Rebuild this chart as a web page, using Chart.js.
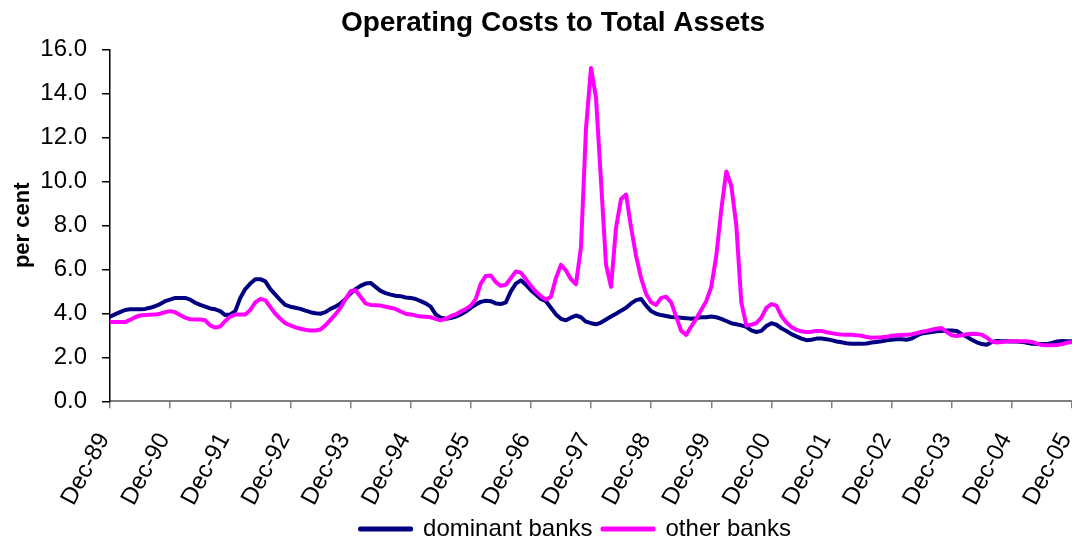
<!DOCTYPE html>
<html>
<head>
<meta charset="utf-8">
<title>Operating Costs to Total Assets</title>
<script src="https://cdn.jsdelivr.net/npm/chart.js@4/dist/chart.umd.min.js"></script>
<style>
  body { margin: 0; background: #fff; }
  #wrap { width: 1072px; height: 543px; }
</style>
</head>
<body>
<div id="wrap"><canvas id="costChart" width="1072" height="543"></canvas></div>
<script>
// monthly series, Dec-89 .. Dec-05 (one value per month, 193 points)
const tickLabels = ['Dec-89', 'Dec-90', 'Dec-91', 'Dec-92', 'Dec-93', 'Dec-94', 'Dec-95', 'Dec-96',
  'Dec-97', 'Dec-98', 'Dec-99', 'Dec-00', 'Dec-01', 'Dec-02', 'Dec-03', 'Dec-04', 'Dec-05'];

const dominantBanks = [
  3.85, 3.95, 4.05, 4.15, 4.18, 4.18, 4.18, 4.2, 4.25, 4.32, 4.42, 4.55,
  4.62, 4.7, 4.7, 4.7, 4.62, 4.48, 4.38, 4.3, 4.22, 4.18, 4.1, 3.92,
  3.95, 4.1, 4.7, 5.1, 5.35, 5.55, 5.55, 5.45, 5.1, 4.85, 4.6, 4.38,
  4.3, 4.25, 4.2, 4.12, 4.05, 4.0, 3.98, 4.05, 4.2, 4.3, 4.45, 4.65,
  4.9, 5.1, 5.25, 5.35, 5.38, 5.2, 5.02, 4.92, 4.85, 4.8, 4.78, 4.72,
  4.7, 4.65, 4.55, 4.45, 4.3, 3.95, 3.8, 3.75, 3.78, 3.85, 3.95, 4.08,
  4.25, 4.4, 4.52, 4.57, 4.55, 4.45, 4.42, 4.5, 5.0, 5.35, 5.5, 5.3,
  5.05, 4.85, 4.65, 4.55, 4.25, 3.95, 3.75, 3.68, 3.8, 3.9, 3.82, 3.62,
  3.55, 3.5, 3.58, 3.72, 3.85, 3.98, 4.12, 4.25, 4.45, 4.6, 4.65, 4.35,
  4.1, 3.98, 3.92, 3.88, 3.83, 3.82, 3.8, 3.78, 3.75, 3.78, 3.82, 3.82,
  3.85, 3.82, 3.75, 3.65, 3.55, 3.5, 3.45, 3.38, 3.22, 3.15, 3.2, 3.42,
  3.55, 3.48, 3.32, 3.2, 3.05, 2.95, 2.85, 2.78, 2.8, 2.85, 2.85, 2.82,
  2.78, 2.72, 2.68, 2.64, 2.62, 2.62, 2.62, 2.63, 2.67, 2.7, 2.73, 2.77,
  2.8, 2.82, 2.82, 2.8, 2.85, 2.98, 3.08, 3.12, 3.15, 3.18, 3.2, 3.22,
  3.22, 3.2, 3.05, 2.93, 2.8, 2.68, 2.6, 2.57, 2.7, 2.74, 2.73, 2.73,
  2.72, 2.72, 2.7, 2.66, 2.62, 2.61, 2.6, 2.6, 2.65, 2.72, 2.74, 2.73,
  2.73
];

const otherBanks = [
  3.6, 3.6, 3.6, 3.6, 3.7, 3.82, 3.9, 3.92, 3.93, 3.94, 3.98, 4.05,
  4.1, 4.05, 3.92, 3.8, 3.73, 3.72, 3.72, 3.68, 3.45, 3.35, 3.4, 3.65,
  3.85, 3.94, 3.94, 3.95, 4.15, 4.5, 4.65, 4.6, 4.28, 3.98, 3.75, 3.55,
  3.45, 3.36, 3.3, 3.25, 3.22, 3.22, 3.26, 3.45, 3.7, 3.95, 4.25, 4.65,
  5.0, 5.05, 4.75, 4.45, 4.38, 4.37, 4.35, 4.3, 4.25, 4.2, 4.08, 3.98,
  3.95, 3.9, 3.85, 3.84, 3.82, 3.75, 3.68, 3.75, 3.87, 3.95, 4.08, 4.2,
  4.35, 4.65, 5.35, 5.7, 5.72, 5.42, 5.25, 5.3, 5.6, 5.9, 5.85, 5.55,
  5.25, 4.98, 4.78, 4.62, 4.75, 5.6, 6.2, 5.95, 5.55, 5.32, 7.0, 12.4,
  15.15, 13.8, 10.0, 6.2, 5.2, 7.9, 9.2, 9.4, 7.9, 6.6, 5.6, 4.88,
  4.5, 4.38, 4.7, 4.75, 4.5, 3.85, 3.2, 3.02, 3.4, 3.75, 4.15, 4.55,
  5.2, 6.6, 8.7, 10.45, 9.8, 8.0, 4.5, 3.45, 3.48, 3.55, 3.8, 4.25,
  4.42, 4.35, 3.88, 3.58, 3.38, 3.25, 3.18, 3.15, 3.16, 3.2, 3.2, 3.14,
  3.1, 3.06, 3.04, 3.03, 3.02, 3.0, 2.98, 2.92, 2.89, 2.9, 2.91, 2.93,
  2.98, 3.0, 3.01, 3.02, 3.05, 3.1, 3.16, 3.2, 3.25, 3.3, 3.33, 3.15,
  3.0, 2.97, 3.0, 3.05, 3.07, 3.06, 3.03, 2.9, 2.72, 2.67, 2.7, 2.72,
  2.73, 2.73, 2.73, 2.73, 2.7, 2.62, 2.56, 2.55, 2.55, 2.56, 2.6, 2.66,
  2.7
];

const monthsPerTick = 12;

// x = month index from Dec-89
function toPoints(values) {
  return values.map((v, i) => ({ x: i, y: v }));
}

// small nudge: excel placed title and legend a bit right of canvas centre
const nudgeBlocks = {
  id: 'nudgeBlocks',
  afterLayout(chart) {
    chart.titleBlock.left += 34;
    chart.legend.left += 79;
  }
};

Chart.defaults.font.family = "'Liberation Sans', Arial, sans-serif";
Chart.defaults.color = '#000';

const ctx = document.getElementById('costChart').getContext('2d');

new Chart(ctx, {
  type: 'line',
  data: {
    datasets: [
      {
        label: 'dominant banks',
        data: toPoints(dominantBanks),
        borderColor: '#000080',
        backgroundColor: '#000080',
        borderWidth: 4,
        pointRadius: 0,
        tension: 0,
        borderJoinStyle: 'round',
        borderCapStyle: 'round'
      },
      {
        label: 'other banks',
        data: toPoints(otherBanks),
        borderColor: '#ff00ff',
        backgroundColor: '#ff00ff',
        borderWidth: 4,
        pointRadius: 0,
        tension: 0,
        borderJoinStyle: 'round',
        borderCapStyle: 'round',
        order: -1
      }
    ]
  },
  options: {
    responsive: false,
    animation: false,
    layout: { padding: { left: 0, right: 0, top: 0, bottom: -8 } },
    plugins: {
      title: {
        display: true,
        text: 'Operating Costs to Total Assets',
        color: '#000',
        font: { size: 28, weight: 'bold' },
        padding: { top: 6, bottom: 9.7 }
      },
      legend: {
        position: 'bottom',
        labels: {
          boxWidth: 51,
          boxHeight: 1,
          padding: 10,
          color: '#000',
          font: { size: 24 },
          sort: (a, b) => a.datasetIndex - b.datasetIndex
        }
      },
      tooltip: { enabled: false }
    },
    scales: {
      x: {
        type: 'linear',
        min: 0,
        max: dominantBanks.length - 1,
        ticks: {
          stepSize: monthsPerTick,
          autoSkip: false,
          minRotation: 62,
          maxRotation: 62,
          padding: 20,
          labelOffset: -6,
          color: '#000',
          font: { size: 24 },
          callback: v => tickLabels[v / monthsPerTick]
        },
        grid: { drawOnChartArea: false, tickLength: 7, color: '#808080', lineWidth: 1.5 },
        border: { color: '#808080', width: 2 },
        afterFit(s) {
          s.paddingLeft = 0;
          s.paddingRight = 0;
          s.height = s.chart.height + 8 - s.chart.legend.height - 401.3;
        }
      },
      y: {
        min: 0,
        max: 16,
        ticks: {
          stepSize: 2,
          padding: 15,
          color: '#000',
          font: { size: 24 },
          callback: v => v.toFixed(1)
        },
        grid: { drawOnChartArea: false, tickLength: 8, color: '#000', lineWidth: 1.5 },
        border: { color: '#000', width: 1.5 },
        title: {
          display: true,
          text: 'per cent',
          color: '#000',
          font: { size: 22, weight: 'bold' },
          padding: { top: 10, bottom: 0 }
        },
        afterFit(s) { s.width = 110; }
      }
    }
  },
  plugins: [nudgeBlocks]
});
</script>
</body>
</html>
